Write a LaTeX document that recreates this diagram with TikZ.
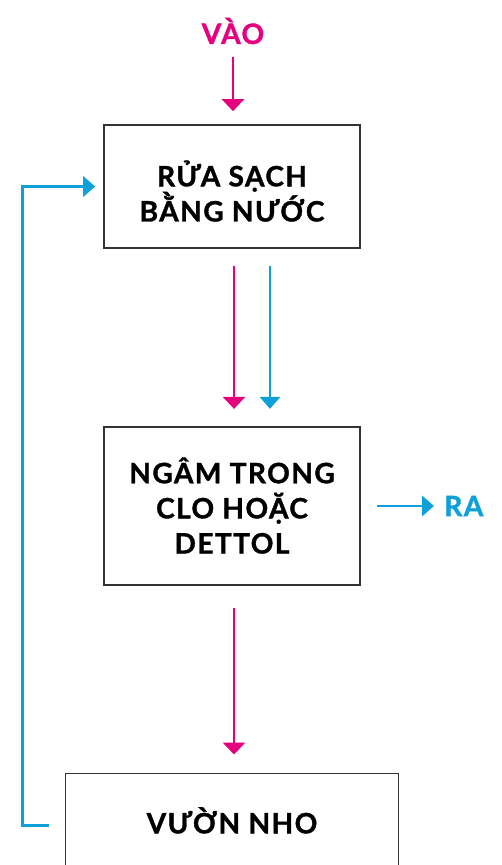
\documentclass[tikz,border=0pt]{standalone}
\usepackage{fontspec}
\setmainfont{Lato}[LetterSpace=5, BoldFeatures={FakeBold=1.2}]
\usepackage{tikz}
\usetikzlibrary{arrows.meta,positioning}
\definecolor{pinkFlow}{HTML}{E6007E}
\definecolor{blueFlow}{HTML}{0EA0D8}
\tikzstyle{stepBox} = [
                rectangle,
                minimum width = 5.12cm,
                text centered,
                align = center,
                draw = black!80,
                line width = 1pt,
                inner sep = 0pt,
                font = \bfseries\fontsize{16}{20}\selectfont
            ]
\tikzstyle{flowLabel} = [inner sep=0pt, font=\bfseries\fontsize{16}{20}\selectfont]
\tikzstyle{pinkArrow} = [draw=pinkFlow, line width=1.6pt, -{Triangle[width=12.5pt,length=6.8pt]}]
\tikzstyle{blueArrow} = [draw=blueFlow, line width=1.6pt, -{Triangle[width=11.5pt,length=6.8pt]}]

\begin{document}
\begin{tikzpicture}[x=0.02cm, y=-0.02cm, node distance=3.54cm]
\useasboundingbox (0,0) rectangle (502,865);
\node (wash) [stepBox, minimum height=2.46cm, text height=1.4cm, text depth=0pt] at (232,186.5) {RỬA SẠCH\\BẰNG NƯỚC};
\node (soak) [stepBox, minimum height=3.16cm, below=of wash] {NGÂM TRONG\\CLO HOẶC\\DETTOL};
\node (vineyard) [stepBox, minimum width=6.66cm, minimum height=2.08cm, text height=0.32cm, text depth=0pt, below=3.74cm of soak] {VƯỜN NHO};
\node (in) [flowLabel, text=pinkFlow] at (233,31) {VÀO};
\node (out) [flowLabel, text=blueFlow, anchor=west] at (444,506) {RA};
\draw [pinkArrow] ([yshift=-0.24cm]in.south) -- ([yshift=0.26cm]in.south |- wash.north);
\draw [pinkArrow] ([xshift=0.04cm, yshift=-0.34cm]wash.south) -- ([xshift=0.04cm, yshift=0.34cm]soak.north);
\draw [blueArrow] ([xshift=0.76cm, yshift=-0.34cm]wash.south) -- ([xshift=0.76cm, yshift=0.34cm]soak.north);
\draw [blueArrow] ([xshift=0.32cm]out.west -| soak.east) -- ([xshift=-0.2cm]out.west);
\draw [pinkArrow] ([xshift=0.04cm, yshift=-0.44cm]soak.south) -- ([xshift=0.04cm, yshift=0.36cm]vineyard.north);
\draw [blueArrow] ([xshift=-0.32cm]vineyard.west) -- ++(-26,0) |- ([xshift=-0.16cm]wash.west);
\end{tikzpicture}
\end{document}
